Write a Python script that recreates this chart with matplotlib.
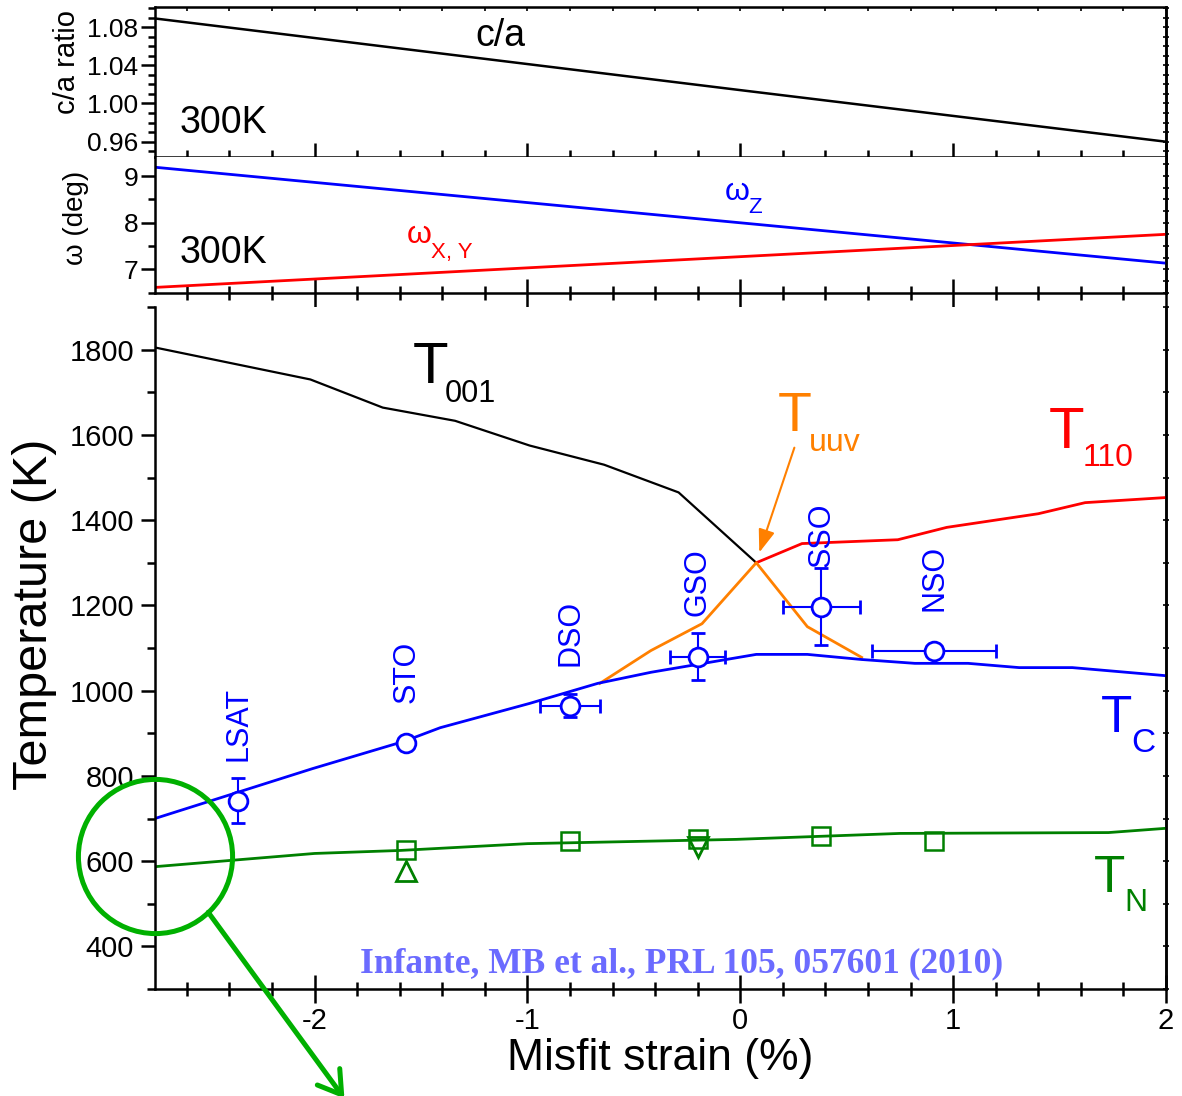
import matplotlib
matplotlib.use("Agg")
import matplotlib.pyplot as plt
from matplotlib.ticker import MultipleLocator

plt.rcParams['font.family'] = ['Liberation Sans', 'DejaVu Sans']
plt.rcParams['axes.unicode_minus'] = False

# ---- values ----
strain_ca = [-2.75, 0.0, 2.0]
ca_ratio = [1.089, 1.014, 0.960]

strain_omega = [-2.75, 2.0]
omega_z = [9.19, 7.13]
omega_xy = [6.61, 7.75]

t001_x = [-2.75, -2.02, -1.68, -1.34, -0.99, -0.64, -0.29, 0.075]
t001_y = [1805, 1730, 1664, 1633, 1575, 1530, 1465, 1300]

t110_x = [0.075, 0.29, 0.74, 0.97, 1.40, 1.62, 2.0]
t110_y = [1300, 1345, 1354, 1383, 1415, 1441, 1453]

tuuv_x = [-0.66, -0.42, -0.18, 0.075, 0.315, 0.57]
tuuv_y = [1017, 1094, 1157, 1300, 1150, 1078]

tc_x = [-2.75, -2.01, -1.58, -1.41, -0.99, -0.67, -0.42, 0.075, 0.315,
        0.57, 0.82, 1.07, 1.31, 1.56, 2.0]
tc_y = [700, 817, 881, 913, 970, 1017, 1043, 1085, 1085,
        1073, 1064, 1064, 1054, 1054, 1035]

tn_x = [-2.75, -2.0, -1.6, -1.0, -0.02, 0.75, 1.73, 2.0]
tn_y = [587, 618, 625, 641, 651, 665, 667, 677]

substrates = ['LSAT', 'STO', 'DSO', 'GSO', 'SSO', 'NSO']
sub_strain = [-2.36, -1.57, -0.80, -0.20, 0.38, 0.91]
tc_meas = [742, 878, 965, 1080, 1197, 1094]
tc_xerr = [0.0, 0.02, 0.14, 0.13, 0.18, 0.29]
tc_yerr = [52, 10, 28, 55, 91, 12]
label_bottom = [836, 972, 1057, 1176, 1289, 1186]

tn_sq_x = [-1.57, -0.80, -0.20, 0.38, 0.91]
tn_sq_y = [625, 648, 653, 658, 648]
tn_up_x, tn_up_y = [-1.57], [578]
tn_down_x, tn_down_y = [-0.20], [634]

citation = "Infante, MB et al., PRL 105, 057601 (2010)"

BLUE, RED, ORANGE, GREEN = '#0000ff', '#ff0000', '#ff8000', '#008000'
LW = 1.8

fig = plt.figure(figsize=(11.82, 10.96), dpi=100)
W, H = 1182.0, 1096.0
left, width = 155 / W, 1011 / W
ax1 = fig.add_axes([left, 1 - 157 / H, width, 150 / H])
ax2 = fig.add_axes([left, 1 - 293 / H, width, 136 / H], sharex=ax1)
ax3 = fig.add_axes([left, 1 - 989 / H, width, 682 / H], sharex=ax1)

for ax in (ax1, ax2, ax3):
    for s in ax.spines.values():
        s.set_linewidth(LW)
    ax.xaxis.set_major_locator(MultipleLocator(1))
    ax.xaxis.set_minor_locator(MultipleLocator(0.2))
    ax.tick_params(axis='x', which='major', direction='inout', length=20, width=LW)
    ax.tick_params(axis='x', which='minor', direction='inout', length=10, width=LW)
ax2.spines['top'].set_visible(False)
ax3.spines['top'].set_visible(False)
ax1.tick_params(axis='x', labelbottom=False)
ax2.tick_params(axis='x', labelbottom=False)
ax3.tick_params(axis='x', labelsize=21, pad=3)
ax1.set_xlim(-2.75, 2.0)

# small ticks on the right/top edges
for ax, step in ((ax1, 0.01), (ax2, 0.25), (ax3, 100)):
    sec = ax.secondary_yaxis('right')
    sec.yaxis.set_major_locator(MultipleLocator(step))
    sec.tick_params(direction='inout', length=4, width=1.2, labelright=False)
    sec.spines['right'].set_linewidth(LW)
sec = ax1.secondary_xaxis('top')
sec.xaxis.set_major_locator(MultipleLocator(0.2))
sec.tick_params(direction='in', length=3, width=1.2, labeltop=False)

# ---- top panel: c/a ----
ax1.plot(strain_ca, ca_ratio, color='black', lw=LW)
ax1.set_ylim(0.944, 1.101)
ax1.yaxis.set_major_locator(MultipleLocator(0.04))
ax1.yaxis.set_minor_locator(MultipleLocator(0.01))
ax1.yaxis.set_major_formatter(lambda v, p: f"{v:.2f}")
ax1.tick_params(axis='y', which='major', direction='out', length=10, width=LW, labelsize=19, pad=2)
ax1.tick_params(axis='y', which='minor', direction='out', length=5, width=LW)
ax1.set_ylabel('c/a ratio', fontsize=21, va='center')
ax1.yaxis.set_label_coords(-0.087, 0.633)
ax1.text(0.3165, 0.74, 'c/a', transform=ax1.transAxes, fontsize=27, va='baseline')
ax1.text(0.0247, 0.16, '300K', transform=ax1.transAxes, fontsize=27, va='baseline')

# ---- middle panel: omega ----
ax2.plot(strain_omega, omega_z, color=BLUE, lw=2.0)
ax2.plot(strain_omega, omega_xy, color=RED, lw=2.0)
ax2.set_ylim(6.49, 9.41)
ax2.yaxis.set_major_locator(MultipleLocator(1))
ax2.yaxis.set_minor_locator(MultipleLocator(0.5))
ax2.tick_params(axis='y', which='major', direction='out', length=10, width=LW, labelsize=19, pad=2)
ax2.tick_params(axis='y', which='minor', direction='out', length=5, width=LW)
ax2.set_ylabel('ω (deg)', fontsize=20, va='center')
ax2.yaxis.set_label_coords(-0.078, 0.55)
ax2.text(0.0247, 0.22, '300K', transform=ax2.transAxes, fontsize=27, va='baseline')
ax2.text(-0.075, 8.49, 'ω', color=BLUE, fontsize=23, va='baseline')
ax2.text(0.035, 8.21, 'Z', color=BLUE, fontsize=16, va='baseline')
ax2.text(-1.568, 7.57, 'ω', color=RED, fontsize=23, va='baseline')
ax2.text(-1.455, 7.24, 'X, Y', color=RED, fontsize=16, va='baseline')

# ---- bottom panel: transition temperatures ----
ax3.plot(t001_x, t001_y, color='black', lw=1.6)
ax3.plot(t110_x, t110_y, color=RED, lw=2.0)
ax3.plot(tuuv_x, tuuv_y, color=ORANGE, lw=2.0)
ax3.plot(tc_x, tc_y, color=BLUE, lw=2.0)
ax3.plot(tn_x, tn_y, color=GREEN, lw=2.0)

ax3.errorbar(sub_strain, tc_meas, xerr=tc_xerr, yerr=tc_yerr, fmt='o', color=BLUE,
             mfc='white', mec=BLUE, ms=13.5, mew=2, capsize=5, capthick=1.5,
             elinewidth=1.5, zorder=5)
ax3.plot(tn_sq_x, tn_sq_y, 's', mfc='none', mec=GREEN, ms=13, mew=1.8, zorder=5)
ax3.plot(tn_up_x, tn_up_y, '^', mfc='none', mec=GREEN, ms=15, mew=2, zorder=5)
ax3.plot(tn_down_x, tn_down_y, 'v', mfc='none', mec=GREEN, ms=15, mew=2, zorder=5)

for name, x, yb in zip(substrates, sub_strain, label_bottom):
    ax3.text(x, yb, name, color=BLUE, fontsize=22, rotation=90, ha='center', va='bottom')

ax3.set_ylim(300, 1900)
ax3.yaxis.set_major_locator(MultipleLocator(200))
ax3.yaxis.set_minor_locator(MultipleLocator(100))
ax3.tick_params(axis='y', which='major', direction='out', length=10, width=LW, labelsize=21, pad=5)
ax3.tick_params(axis='y', which='minor', direction='out', length=6, width=LW)
ax3.set_ylabel('Temperature (K)', fontsize=35, va='center')
ax3.yaxis.set_label_coords(-0.1187, 0.55)
ax3.set_xlabel('Misfit strain (%)', fontsize=32, va='top')
ax3.xaxis.set_label_coords(0.5, -0.072)


def sub_label(x, y, main, xs, ys, sub, color, size, subsize):
    ax3.text(x, y, main, color=color, fontsize=size, va='baseline')
    ax3.text(xs, ys, sub, color=color, fontsize=subsize, va='baseline')


sub_label(-1.54, 1722, 'T', -1.39, 1676, '001', 'black', 42, 22)
sub_label(0.174, 1610, 'T', 0.324, 1563, 'uuv', ORANGE, 40, 23)
sub_label(1.451, 1570, 'T', 1.606, 1528, '110', RED, 42, 23)
sub_label(1.695, 902, 'T', 1.836, 855, 'C', BLUE, 37, 24)
sub_label(1.662, 527, 'T', 1.803, 484, 'N', GREEN, 37, 23)

ax3.annotate('', xy=(0.089, 1324), xytext=(0.254, 1570),
             arrowprops=dict(arrowstyle='-|>,head_length=0.7,head_width=0.25',
                             color=ORANGE, lw=1.5, shrinkA=0, shrinkB=0,
                             mutation_scale=20))

ax3.text(0.2028, 0.0249, citation, transform=ax3.transAxes, fontsize=25.5,
         family=['Liberation Serif', 'DejaVu Serif'], fontweight='bold',
         color='#6b6bff', va='baseline')

# green zoom circle and arrow
zoom_center = (-2.75, 612)
ax3.plot([zoom_center[0]], [zoom_center[1]], 'o', ms=111, mfc='none', mec='#00b000',
         mew=3.6, clip_on=False, zorder=6)
ax3.annotate('', xy=(-1.86, 43), xytext=(-2.50, 480), annotation_clip=False,
             arrowprops=dict(arrowstyle='->,head_length=0.8,head_width=0.5',
                             color='#00b000', lw=3.6, shrinkA=0, shrinkB=0,
                             mutation_scale=20))

fig.savefig('out.png', dpi=100)
